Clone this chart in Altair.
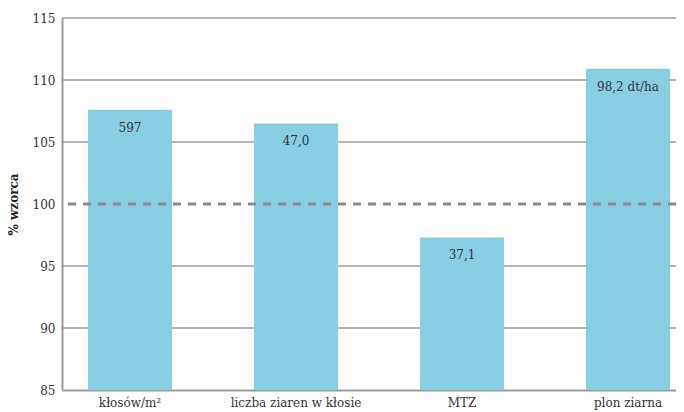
import altair as alt
import pandas as pd

categories = ["kłosów/m²", "liczba ziaren w kłosie", "MTZ", "plon ziarna"]
values = [107.6, 106.5, 97.3, 110.9]
labels = ["597", "47,0", "37,1", "98,2 dt/ha"]
grid_values = [90, 95, 105, 110, 115]
reference = [100]
y_ticks = [85, 90, 95, 100, 105, 110, 115]
y_min = 85

df = pd.DataFrame({"cat": categories, "val": values, "lab": labels})
grid_df = pd.DataFrame({"g": grid_values})
ref_df = pd.DataFrame({"r": reference})

FONT = "DejaVu Serif"
TXT = "#333333"
LINE = "#9a9a9a"

y_scale = alt.Scale(domain=[85, 115], nice=False, zero=False)
x_scale = alt.Scale(paddingInner=0.494, paddingOuter=0.0964, align=0.8125)

y_axis = alt.Axis(values=y_ticks, ticks=False, grid=False, domainColor=LINE,
                  domainWidth=2, labelFont=FONT, labelFontSize=12,
                  labelColor=TXT, labelPadding=7, titleFont=FONT,
                  titleFontSize=12, titleFontWeight="bold", titleColor="#222",
                  titlePadding=12)

x_enc = alt.X(
    "cat:N", sort=categories, title=None, scale=x_scale,
    axis=alt.Axis(labelAngle=0, ticks=False, domainColor=LINE, domainWidth=2,
                  labelFont=FONT, labelFontSize=12, labelColor=TXT, labelPadding=7),
)

grid = alt.Chart(grid_df).mark_rule(color=LINE, strokeWidth=1.5).encode(
    y=alt.Y("g:Q", scale=y_scale, title="% wzorca", axis=y_axis)
)

bars = alt.Chart(df).mark_bar(color="#88CEE3").encode(
    x=x_enc,
    y=alt.Y("val:Q", scale=y_scale),
    y2=alt.datum(y_min),
)

ref = alt.Chart(ref_df).mark_rule(color="#8a8a8a", strokeWidth=3, strokeDash=[8, 7]).encode(
    y=alt.Y("r:Q", scale=y_scale)
)

text = alt.Chart(df).mark_text(baseline="middle", dy=18, font=FONT, fontSize=12, color=TXT).encode(
    x=alt.X("cat:N", sort=categories, scale=x_scale),
    y=alt.Y("val:Q", scale=y_scale),
    text="lab:N",
)

chart = alt.layer(grid, bars, ref, text).properties(
    width=614, height=372,
    padding={"left": 54, "top": 10, "right": 0, "bottom": 22},
    autosize=alt.AutoSizeParams(type="none"),
).configure_view(stroke=None)

chart.save("out.html", embed_options={"renderer": "svg", "actions": False})
